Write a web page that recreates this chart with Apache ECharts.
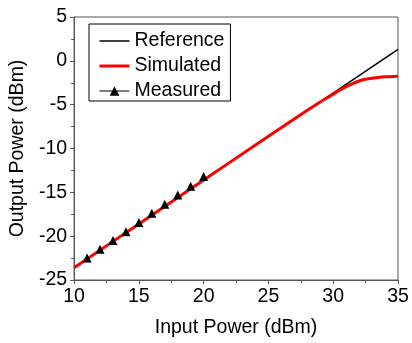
<!DOCTYPE html>
<html>
<head>
<meta charset="utf-8">
<script src="https://cdn.jsdelivr.net/npm/echarts@6/dist/echarts.min.js"></script>
<style>
  html, body { margin: 0; padding: 0; background: #fff; }
  #chart { width: 412px; height: 343px; }
</style>
</head>
<body>
<div id="chart"></div>
<script>
// Ideal linear response (input vs output power, dBm)
const referenceX = [10, 35];
const referenceY = [-23.6, 1.3];

// Simulated amplifier response with gain compression above ~30 dBm
const simulatedX = [10, 15, 20, 25, 28, 29, 29.5, 30, 30.5, 31, 31.5, 32, 32.5, 33, 34, 35];
const simulatedY = [-23.6, -18.6, -13.6, -8.6, -5.65, -4.7, -4.25, -3.8, -3.35, -2.95, -2.6, -2.3, -2.1, -1.98, -1.82, -1.75];

// Measured points
const measuredX = [11, 12, 13, 14, 15, 16, 17, 18, 19, 20];
const measuredY = [-22.5, -21.5, -20.5, -19.5, -18.45, -17.4, -16.35, -15.3, -14.3, -13.2];

const xTicks = [10, 15, 20, 25, 30, 35];
const yTicks = [-25, -20, -15, -10, -5, 0, 5];

const pairs = (xs, ys) => xs.map((x, i) => [x, ys[i]]);

const font = 'Liberation Sans, Arial, sans-serif';
const axisColor = '#555';

const chart = echarts.init(document.getElementById('chart'), null, { renderer: 'canvas' });

const axisCommon = {
  axisLine: { show: true, onZero: false, lineStyle: { color: axisColor, width: 1 } },
  axisTick: { show: true, inside: false, length: 4, lineStyle: { color: axisColor } },
  minorTick: { show: true, splitNumber: 2, length: 3, lineStyle: { color: axisColor } },
  splitLine: { show: false },
  axisLabel: { color: '#000', fontFamily: font, fontSize: 19.5, margin: 7 },
  nameLocation: 'middle',
  nameTextStyle: { color: '#000', fontFamily: font, fontSize: 19.5 }
};

chart.setOption({
  animation: false,
  backgroundColor: '#fff',
  grid: {
    left: 73, right: 14, top: 17, bottom: 63,
    show: true, borderColor: axisColor, borderWidth: 1
  },
  xAxis: Object.assign({}, axisCommon, {
    type: 'value', min: xTicks[0], max: xTicks[xTicks.length - 1], interval: 5,
    name: 'Input Power (dBm)', nameGap: 38
  }),
  yAxis: Object.assign({}, axisCommon, {
    type: 'value', min: yTicks[0], max: yTicks[yTicks.length - 1], interval: 5,
    name: 'Output Power (dBm)', nameGap: 36
  }),
  legend: {
    left: 89, top: 24, orient: 'vertical',
    width: 139,
    padding: [7, 6, 0, 9],
    itemGap: 5,
    itemWidth: 30, itemHeight: 12,
    borderColor: '#000', borderWidth: 1,
    backgroundColor: '#fff',
    textStyle: { color: '#000', fontFamily: font, fontSize: 19.5, padding: [0, 0, 0, 0] },
    data: [
      { name: 'Reference', itemStyle: { opacity: 0 }, lineStyle: { width: 1.5, color: '#000' } },
      { name: 'Simulated', itemStyle: { opacity: 0 }, lineStyle: { width: 3, color: '#ff0000' } },
      { name: 'Measured', lineStyle: { width: 1, color: '#000', opacity: 1 } }
    ]
  },
  series: [
    {
      name: 'Reference', type: 'line', data: pairs(referenceX, referenceY),
      showSymbol: false, symbol: 'none',
      lineStyle: { color: '#000', width: 1.5 }, itemStyle: { color: '#000' }, z: 2
    },
    {
      name: 'Simulated', type: 'line', data: pairs(simulatedX, simulatedY),
      showSymbol: false, symbol: 'none', smooth: 0.3,
      lineStyle: { color: '#ff0000', width: 3 }, itemStyle: { color: '#ff0000' }, z: 3
    },
    {
      name: 'Measured', type: 'line', data: pairs(measuredX, measuredY),
      symbol: 'triangle', symbolSize: 9,
      lineStyle: { color: '#000', width: 1, opacity: 0 }, itemStyle: { color: '#000' }, z: 4
    }
  ]
});
</script>
</body>
</html>
